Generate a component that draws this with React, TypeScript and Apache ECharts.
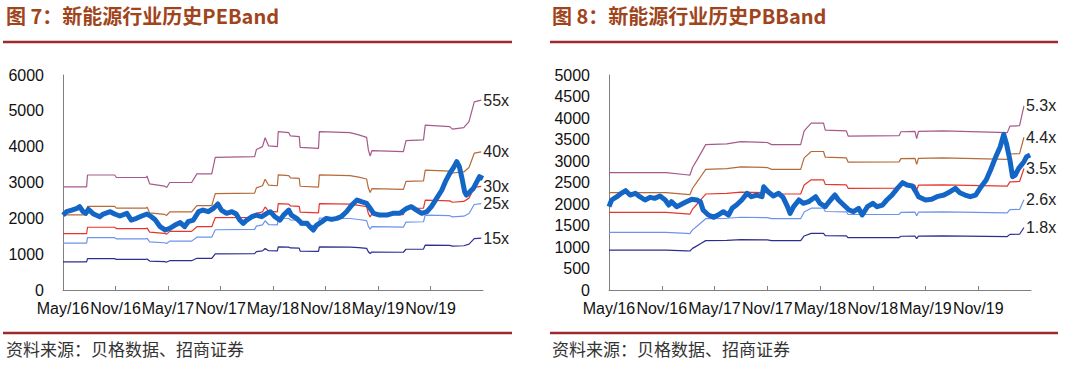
import React, { useEffect, useRef } from "react";
import * as echarts from "echarts";

// ---------- shared axis labels ----------
const xTickMonths = [0, 6, 12, 18, 24, 30, 36, 42];
const xTickLabels = ["May/16", "Nov/16", "May/17", "Nov/17", "May/18", "Nov/18", "May/19", "Nov/19"];

// ---------- Fig 7: PE band (x = months since May 2016) ----------
const peBandX = [0, 2.7, 2.8, 5.9, 6.1, 9.5, 9.6, 9.9, 11.6, 11.85, 12.2, 14.7, 15.3, 17.0, 17.4, 21.9, 22.1, 22.8, 23.1, 23.5, 24.5, 24.6, 25.8, 26.0, 27.0, 27.1, 29.2, 29.3, 32.8, 33.8, 34.7, 34.9, 35.1, 35.3, 38.9, 39.2, 41.2, 41.4, 44.2, 44.5, 45.8, 46.4, 47.0, 47.8];
const pe55 = [2880, 2880, 3210, 3210, 3140, 3140, 3180, 2960, 2900, 2860, 3000, 3000, 3240, 3240, 3700, 3720, 3920, 4000, 4250, 4020, 4000, 4420, 4390, 4300, 4280, 3980, 3950, 4420, 4390, 4330, 4260, 3910, 3740, 3890, 3860, 4170, 4190, 4600, 4560, 4490, 4530, 4700, 5250, 5300];
const pe40 = [2095, 2095, 2335, 2335, 2284, 2284, 2313, 2153, 2109, 2080, 2182, 2182, 2356, 2356, 2691, 2705, 2851, 2909, 3091, 2924, 2909, 3215, 3193, 3127, 3113, 2895, 2873, 3215, 3193, 3149, 3098, 2844, 2720, 2829, 2807, 3033, 3047, 3345, 3316, 3265, 3295, 3418, 3818, 3855];
const pe30 = [1571, 1571, 1751, 1751, 1713, 1713, 1735, 1615, 1582, 1560, 1636, 1636, 1767, 1767, 2018, 2029, 2138, 2182, 2318, 2193, 2182, 2411, 2395, 2345, 2335, 2171, 2155, 2411, 2395, 2362, 2324, 2133, 2040, 2122, 2105, 2275, 2285, 2509, 2487, 2449, 2471, 2564, 2864, 2891];
const pe25 = [1309, 1309, 1459, 1459, 1427, 1427, 1445, 1345, 1318, 1300, 1364, 1364, 1473, 1473, 1682, 1691, 1782, 1818, 1932, 1827, 1818, 2009, 1995, 1955, 1945, 1809, 1795, 2009, 1995, 1968, 1936, 1777, 1700, 1768, 1755, 1895, 1905, 2091, 2073, 2041, 2059, 2136, 2386, 2409];
const pe15 = [785, 785, 875, 875, 856, 856, 867, 807, 791, 780, 818, 818, 884, 884, 1009, 1015, 1069, 1091, 1159, 1096, 1091, 1205, 1197, 1173, 1167, 1085, 1077, 1205, 1197, 1181, 1162, 1066, 1020, 1061, 1053, 1137, 1143, 1255, 1244, 1225, 1235, 1282, 1432, 1445];
const peIdxX = [0, 0.4, 1.0, 1.6, 1.9, 2.3, 2.6, 2.9, 3.5, 4.2, 4.6, 5.4, 5.9, 6.5, 7.3, 7.8, 8.4, 9.0, 9.6, 10.1, 10.5, 11.1, 11.7, 12.2, 12.8, 13.4, 13.9, 14.3, 14.9, 15.5, 16.0, 16.6, 17.2, 17.7, 18.1, 18.7, 19.3, 19.8, 20.2, 20.6, 21.0, 21.6, 22.1, 22.7, 23.3, 23.7, 24.2, 24.8, 25.2, 25.8, 26.1, 26.7, 27.3, 27.9, 28.2, 28.6, 29.0, 29.6, 30.1, 30.7, 31.3, 31.8, 32.4, 33.0, 33.6, 34.1, 34.7, 35.1, 35.5, 36.2, 37.0, 37.7, 38.5, 39.3, 39.8, 40.4, 41.0, 41.6, 42.1, 42.7, 43.3, 43.7, 44.2, 44.7, 45.0, 45.3, 45.6, 45.9, 46.1, 46.5, 46.9, 47.2, 47.6, 48.0];
const peIdx = [2090, 2185, 2230, 2280, 2325, 2185, 2140, 2250, 2120, 2046, 2120, 2185, 2120, 2065, 2140, 1953, 2000, 2065, 2120, 2046, 1970, 1767, 1674, 1720, 1813, 1880, 1767, 1906, 1953, 2185, 2230, 2185, 2280, 2400, 2230, 2140, 2185, 2120, 1953, 1860, 1953, 2046, 2090, 2046, 2140, 2185, 2046, 1953, 2090, 2230, 2090, 2000, 1860, 1860, 1767, 1674, 1813, 1906, 2000, 1970, 2000, 2046, 2185, 2370, 2510, 2465, 2418, 2280, 2140, 2090, 2090, 2140, 2140, 2280, 2325, 2230, 2140, 2185, 2325, 2558, 2790, 3022, 3255, 3441, 3580, 3441, 3115, 2740, 2650, 2740, 2836, 2976, 3162, 3115];

// ---------- Fig 8: PB band ----------
const pbBandX = [0, 6.5, 8.8, 9.2, 9.5, 10.0, 10.5, 11.0, 13.4, 15.0, 18.0, 18.5, 21.8, 22.2, 23.0, 24.4, 24.6, 27.0, 27.2, 33.0, 33.2, 34.8, 35.0, 35.2, 38.0, 45.3, 45.6, 46.7, 47.2];
const pb53 = [2730, 2730, 2680, 2670, 2850, 3020, 3200, 3380, 3400, 3450, 3430, 3380, 3380, 3700, 3880, 3880, 3720, 3700, 3580, 3590, 3680, 3690, 3520, 3690, 3700, 3660, 3810, 3820, 4280];
const pb44 = [2266, 2266, 2225, 2217, 2366, 2507, 2657, 2806, 2823, 2864, 2848, 2806, 2806, 3072, 3221, 3221, 3088, 3072, 2972, 2980, 3055, 3063, 2922, 3063, 3072, 3038, 3163, 3171, 3553];
const pb35 = [1803, 1803, 1770, 1763, 1882, 1994, 2113, 2232, 2245, 2278, 2265, 2232, 2232, 2443, 2562, 2562, 2457, 2443, 2364, 2371, 2430, 2437, 2325, 2437, 2443, 2417, 2516, 2523, 2826];
const pb26 = [1339, 1339, 1315, 1310, 1398, 1482, 1570, 1658, 1668, 1692, 1683, 1658, 1658, 1815, 1903, 1903, 1825, 1815, 1756, 1761, 1805, 1810, 1727, 1810, 1815, 1795, 1869, 1874, 2100];
const pb18 = [927, 927, 910, 907, 968, 1026, 1087, 1148, 1155, 1172, 1165, 1148, 1148, 1257, 1318, 1318, 1263, 1257, 1216, 1219, 1250, 1253, 1195, 1253, 1257, 1243, 1294, 1297, 1454];
const pbIdxX = [0, 0.3, 0.9, 1.4, 1.9, 2.4, 3.0, 3.5, 4.1, 4.7, 5.2, 5.8, 6.4, 6.8, 7.1, 7.7, 8.3, 8.8, 9.4, 10.0, 10.4, 10.7, 11.3, 11.9, 12.4, 13.0, 13.6, 14.0, 14.5, 15.1, 15.7, 16.2, 16.8, 17.4, 17.6, 18.1, 18.7, 19.3, 19.8, 20.3, 20.6, 21.0, 21.6, 22.1, 22.7, 23.5, 24.0, 24.6, 25.2, 25.7, 26.1, 26.7, 27.3, 27.8, 28.4, 28.8, 29.4, 30.0, 30.5, 31.1, 31.6, 32.2, 32.8, 33.4, 33.9, 34.5, 34.9, 35.2, 36.0, 36.7, 37.3, 38.1, 38.8, 39.4, 39.9, 40.5, 41.1, 41.7, 42.2, 42.9, 43.4, 44.0, 44.5, 44.9, 45.2, 45.6, 45.9, 46.2, 46.6, 47.2, 47.5, 47.9];
const pbIdx = [1938, 2093, 2170, 2248, 2310, 2209, 2248, 2170, 2093, 2155, 2131, 2186, 2093, 1976, 2054, 1938, 2000, 2054, 2108, 2093, 2054, 1860, 1744, 1690, 1744, 1821, 1744, 1899, 1976, 2093, 2248, 2170, 2209, 2170, 2400, 2286, 2186, 2248, 2155, 1938, 1783, 1938, 2093, 2015, 2054, 2170, 2015, 1938, 2093, 2209, 2093, 1976, 1860, 1821, 1899, 1744, 1938, 2015, 1938, 1976, 2093, 2209, 2364, 2496, 2441, 2418, 2286, 2170, 2093, 2108, 2170, 2209, 2286, 2364, 2263, 2209, 2170, 2209, 2364, 2558, 2790, 3100, 3333, 3620, 3410, 3023, 2635, 2674, 2829, 2984, 3100, 3139];

const peNames = ["55x", "40x", "30x", "25x", "15x"];
const pbNames = ["5.3x", "4.4x", "3.5x", "2.6x", "1.8x"];

const titles = ["图 7：新能源行业历史PEBand", "图 8：新能源行业历史PBBand"];
const sourceText = "资料来源：贝格数据、招商证券";

const bandColors = ["#A65A8A", "#B56A38", "#E8352B", "#6C93EE", "#2E2E8E"];
const idxColor = "#1466C6";
const axisColor = "#808080";
const labelColor = "#111";

const zip = (xs: number[], ys: number[]) => xs.map((x, i) => [x, ys[i]]);

export default function App() {
  const ref = useRef<HTMLDivElement>(null);
  useEffect(() => {
    if (!ref.current) return;
    const chart = echarts.init(ref.current, undefined, { renderer: "svg" });

    const mkX = (gi: number) => ({
      type: "value",
      gridIndex: gi,
      min: 0,
      max: 48,
      interval: 6,
      axisLine: { show: true, lineStyle: { color: axisColor, width: 1 } },
      axisTick: { show: true, inside: true, length: 4, customValues: xTickMonths, lineStyle: { color: axisColor } },
      axisLabel: {
        customValues: xTickMonths,
        fontSize: 16,
        color: labelColor,
        margin: 10,
        formatter: (v: number) => {
          const i = xTickMonths.indexOf(v);
          return i >= 0 ? xTickLabels[i] : "";
        },
      },
      splitLine: { show: false },
    });
    const mkY = (gi: number, max: number, interval: number) => ({
      type: "value",
      gridIndex: gi,
      min: 0,
      max,
      interval,
      axisLine: { show: true, lineStyle: { color: axisColor, width: 1 } },
      axisTick: { show: false },
      axisLabel: { fontSize: 16, color: labelColor, margin: 19, formatter: (v: number) => String(v) },
      splitLine: { show: false },
    });
    const band = (gi: number, xs: number[], ys: number[], name: string, color: string) => ({
      type: "line",
      name,
      xAxisIndex: gi,
      yAxisIndex: gi,
      data: zip(xs, ys),
      symbol: "none",
      silent: true,
      lineStyle: { width: 1.2, color },
      itemStyle: { color },
      endLabel: { show: true, formatter: name, fontSize: 16, color: "#222", distance: 2 },
      z: 2,
    });
    const idx = (gi: number, xs: number[], ys: number[]) => ({
      type: "line",
      name: "index",
      xAxisIndex: gi,
      yAxisIndex: gi,
      data: zip(xs, ys),
      symbol: "none",
      silent: true,
      lineStyle: { width: 5, color: idxColor, join: "round" },
      itemStyle: { color: idxColor },
      z: 3,
    });

    const peBands = [pe55, pe40, pe30, pe25, pe15];
    const pbBands = [pb53, pb44, pb35, pb26, pb18];

    const titleFont = { fontSize: 20, fontWeight: "bold", fontFamily: "'Noto Sans CJK SC', sans-serif", fill: "#A0441C" };
    const srcFont = { fontSize: 17, fontFamily: "'Noto Sans CJK SC', sans-serif", fill: "#333" };
    const rule = { stroke: "#9E2A2B", lineWidth: 2.5 };

    chart.setOption({
      animation: false,
      backgroundColor: "#fff",
      textStyle: { fontFamily: "'Liberation Sans', Arial, sans-serif" },
      grid: [
        { left: 63, top: 75, width: 420, height: 215, containLabel: false },
        { left: 609, top: 75, width: 422, height: 215, containLabel: false },
      ],
      xAxis: [mkX(0), mkX(1)],
      yAxis: [mkY(0, 6000, 1000), mkY(1, 5000, 500)],
      series: [
        ...peBands.map((b, i) => band(0, peBandX, b, peNames[i], bandColors[i])),
        idx(0, peIdxX, peIdx),
        ...pbBands.map((b, i) => band(1, pbBandX, b, pbNames[i], bandColors[i])),
        idx(1, pbIdxX, pbIdx),
      ],
      graphic: [
        { type: "text", x: 6, y: 15, style: { ...titleFont, text: titles[0], verticalAlign: "middle" } },
        { type: "text", x: 552, y: 15, style: { ...titleFont, text: titles[1], verticalAlign: "middle" } },
        { type: "line", shape: { x1: 3, y1: 42, x2: 512, y2: 42 }, style: rule },
        { type: "line", shape: { x1: 550, y1: 42, x2: 1058, y2: 42 }, style: rule },
        { type: "line", shape: { x1: 3, y1: 333, x2: 512, y2: 333 }, style: rule },
        { type: "line", shape: { x1: 550, y1: 333, x2: 1058, y2: 333 }, style: rule },
        { type: "text", x: 6, y: 348, style: { ...srcFont, text: sourceText, verticalAlign: "middle" } },
        { type: "text", x: 552, y: 348, style: { ...srcFont, text: sourceText, verticalAlign: "middle" } },
      ],
    });
    return () => chart.dispose();
  }, []);
  return (
    <div
      ref={ref}
      style={{ position: "fixed", left: 0, top: 0, width: 1080, height: 365, background: "#fff" }}
    />
  );
}
